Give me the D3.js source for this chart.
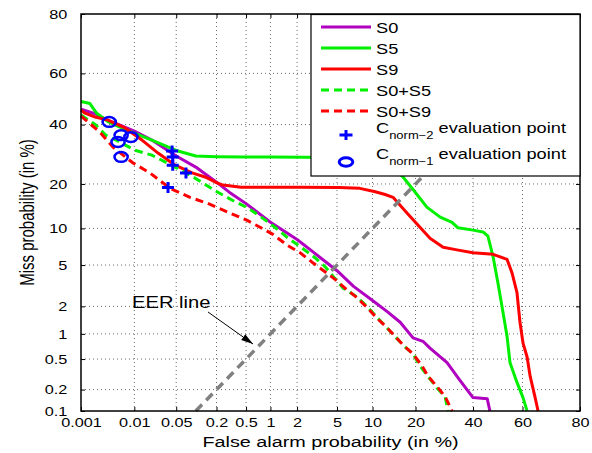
<!DOCTYPE html>
<html>
<head>
<meta charset="utf-8">
<script src="https://cdn.jsdelivr.net/npm/d3@7"></script>
<style>
  body { margin: 0; background: #fff; }
  svg { display: block; }
  text { font-family: "Liberation Sans", Arial, Helvetica, sans-serif; }
</style>
</head>
<body>
<svg width="592" height="453"></svg>
<script>
// axis ticks (in %)
const xTicks = [0.001, 0.01, 0.05, 0.2, 0.5, 1, 2, 5, 10, 20, 40, 60, 80];
const yTicks = [0.1, 0.2, 0.5, 1, 2, 5, 10, 20, 40, 60, 80];

// DET curves: [false alarm %, miss %]
const S0 = [[0.001,46],[0.002,44],[0.003,42],[0.005,40.2],[0.01,37.5],[0.02,34.2],[0.05,28.6],[0.1,25],
  [0.2,20.5],[0.3,17.8],[0.5,15],[1,11.1],[2,8.2],[3,6.4],[5,4.45],[7,3.17],[10,2.3],[12.9,1.76],
  [15.9,1.35],[19.3,0.9],[22.2,0.82],[24.4,0.68],[30.2,0.45],[34.8,0.27],[40,0.155],[45.7,0.15],[46.8,0.1]];
const S5 = [[0.001,49],[0.0015,48.2],[0.002,44.5],[0.0034,41],[0.005,39.4],[0.01,36.8],[0.02,34.2],
  [0.05,30.5],[0.1,28.6],[0.2,28.4],[0.5,28.3],[1,28.3],[5,28.1],[8,27.6],[10,26.7],[12,25.3],[15,23.6],
  [16.6,22],[19.3,18.5],[23.4,14.2],[27.8,12.1],[32,11.1],[34.2,10.1],[40,9.7],[44,9.4],[46,8.7],
  [48.1,5.9],[50.1,3.4],[51.8,1.95],[53.8,0.93],[55,0.45],[57.8,0.25],[60.2,0.155],[61.8,0.1]];
const S9 = [[0.001,45.6],[0.0012,44.4],[0.0019,42.9],[0.0033,41.7],[0.0068,38.7],[0.0136,34.2],
  [0.0254,29.6],[0.048,25.6],[0.088,23.2],[0.137,22],[0.203,20.3],[0.246,19.7],[0.43,19.1],[2.15,19.1],
  [5.2,19],[7.9,18.8],[10.5,17.9],[12.45,17.2],[14.2,16.5],[17.7,12.9],[21.3,10.2],[24.4,8.4],[28.8,7.1],
  [33.8,6.75],[40,6.4],[48.1,6.2],[53.8,5.6],[55.8,4.25],[57.8,2.75],[59,1.35],[60.2,0.78],[61.8,0.53],
  [63,0.3],[64.9,0.155],[66,0.1]];
const S0S5 = [[0.001,43.7],[0.0019,40],[0.003,36],[0.004,34.9],[0.0103,30.6],[0.02,28.9],[0.048,25],
  [0.091,22],[0.203,17.9],[0.33,15.8],[0.53,14],[0.79,12],[1.13,10.2],[1.6,8.4],[2.26,7],[3.07,5.8],
  [3.85,4.85],[5.67,3.05],[7.5,2.5],[9.2,1.95],[10.8,1.53],[12.65,1.2],[14.7,0.93],[16.9,0.72],[19.3,0.58],
  [21.3,0.41],[23.8,0.3],[26.7,0.21],[29.5,0.16],[30.5,0.1]];
const S0S9 = [[0.001,43.3],[0.0023,37.2],[0.0041,31.7],[0.0095,26.3],[0.0186,23.2],[0.04,18.8],
  [0.082,16.5],[0.147,15.1],[0.31,12.9],[0.51,11.5],[0.75,10.2],[1.07,9],[1.55,7.4],[2.15,6.4],[2.87,5.3],
  [3.85,4.35],[4.8,3.7],[5.9,3.05],[7.5,2.45],[9.05,1.95],[10.8,1.5],[12.9,1.17],[14.7,0.93],[16.9,0.72],
  [19.3,0.58],[21.9,0.41],[23.8,0.3],[26.7,0.22],[29.5,0.16],[32,0.1]];

// evaluation points
const cnorm2Points = [[0.043,30.3],[0.044,28.3],[0.044,25.6],[0.071,23.2],[0.037,19.0]];
const cnorm1Points = [[0.0035,41],[0.0058,36],[0.0087,35.3],[0.0051,33.5],[0.0058,28.3]];

// EER diagonal (miss = false alarm)
const eerRange = [0.1, 80];

const seriesNames = ["S0", "S5", "S9", "S0+S5", "S0+S9"];
const seriesData = [S0, S5, S9, S0S5, S0S9];
const seriesColors = ["#b000c0", "#00f000", "#ff0000", "#00f000", "#ff0000"];
const seriesDash = [null, null, null, "8,5", "8,5"];

const pLeft = 81, pRight = 580, pTop = 14, pBottom = 411;
const SX = 1.25; // text in the original is stretched horizontally

// inverse normal CDF (Acklam)
function probit(p) {
    const a = [-3.969683028665376e+01, 2.209460984245205e+02, -2.759285104469687e+02, 1.383577518672690e+02, -3.066479806614716e+01, 2.506628277459239e+00];
    const b = [-5.447609879822406e+01, 1.615858368580409e+02, -1.556989798598866e+02, 6.680131188771972e+01, -1.328068155288572e+01];
    const c = [-7.784894002430293e-03, -3.223964580411365e-01, -2.400758277161838e+00, -2.549732539343734e+00, 4.374664141464968e+00, 2.938163982698783e+00];
    const d = [7.784695709041462e-03, 3.224671290700398e-01, 2.445134137142996e+00, 3.754408661907416e+00];
    const plow = 0.02425;
    if (p < plow) {
        const q = Math.sqrt(-2 * Math.log(p));
        return (((((c[0]*q+c[1])*q+c[2])*q+c[3])*q+c[4])*q+c[5]) / ((((d[0]*q+d[1])*q+d[2])*q+d[3])*q+1);
    } else if (p <= 1 - plow) {
        const q = p - 0.5, r = q * q;
        return (((((a[0]*r+a[1])*r+a[2])*r+a[3])*r+a[4])*r+a[5])*q / (((((b[0]*r+b[1])*r+b[2])*r+b[3])*r+b[4])*r+1);
    }
    const q = Math.sqrt(-2 * Math.log(1 - p));
    return -(((((c[0]*q+c[1])*q+c[2])*q+c[3])*q+c[4])*q+c[5]) / ((((d[0]*q+d[1])*q+d[2])*q+d[3])*q+1);
}

// normal-deviate scale on top of a linear scale, usable by d3 axes
function probitScale(domainPct, range) {
    const lin = d3.scaleLinear().domain(domainPct.map(p => probit(p / 100))).range(range);
    const s = p => lin(probit(p / 100));
    s.domain = () => domainPct;
    s.range = () => lin.range();
    s.copy = () => probitScale(domainPct, range);
    return s;
}

const x = probitScale([0.001, 80], [pLeft, pRight]);
const y = probitScale([0.1, 80], [pBottom, pTop]);

const svg = d3.select("svg");

// grid
const grid = svg.append("g")
    .attr("stroke", "#444")
    .attr("stroke-width", 0.8)
    .attr("stroke-dasharray", "1,3");
grid.selectAll(".gx").data(xTicks.slice(1, -1)).join("line")
    .attr("x1", d => x(d)).attr("x2", d => x(d))
    .attr("y1", pTop).attr("y2", pBottom);
grid.selectAll(".gy").data(yTicks.slice(1, -1)).join("line")
    .attr("x1", pLeft).attr("x2", pRight)
    .attr("y1", d => y(d)).attr("y2", d => y(d));

// curves
const line = d3.line().x(d => x(d[0])).y(d => y(d[1]));
seriesData.forEach((data, i) => {
    svg.append("path")
        .datum(data)
        .attr("d", line)
        .attr("fill", "none")
        .attr("stroke", seriesColors[i])
        .attr("stroke-width", 3)
        .attr("stroke-linejoin", "round")
        .attr("stroke-dasharray", seriesDash[i]);
});

// EER line
svg.append("path")
    .datum(eerRange.map(p => [p, p]))
    .attr("d", line)
    .attr("stroke", "#808080")
    .attr("stroke-width", 3.5)
    .attr("stroke-dasharray", "9,6");

// evaluation points
svg.append("g").selectAll("path")
    .data(cnorm2Points)
    .join("path")
    .attr("d", d => `M${x(d[0]) - 6},${y(d[1])}h12M${x(d[0])},${y(d[1]) - 5.5}v11`)
    .attr("stroke", "#0000ff")
    .attr("stroke-width", 3);

svg.append("g").selectAll("ellipse")
    .data(cnorm1Points)
    .join("ellipse")
    .attr("cx", d => x(d[0]))
    .attr("cy", d => y(d[1]))
    .attr("rx", 6.6)
    .attr("ry", 4.9)
    .attr("fill", "none")
    .attr("stroke", "#0000ff")
    .attr("stroke-width", 2.5);

// axes
function styleAxis(g, size) {
    g.attr("font-size", size).attr("font-family", null);
    g.select(".domain").remove();
    g.selectAll("line").attr("stroke", "#000");
    g.selectAll("text").attr("fill", "#000").attr("transform", `scale(${SX},1)`);
}

svg.append("g")
    .attr("transform", `translate(0,${pBottom})`)
    .call(d3.axisBottom(x).tickValues(xTicks).tickFormat(d => String(d))
        .tickSizeInner(-4).tickSizeOuter(0).tickPadding(6.5))
    .call(g => styleAxis(g, 13));

svg.append("g")
    .attr("transform", `translate(${pLeft},0)`)
    .call(d3.axisLeft(y).tickValues(yTicks).tickFormat(d => String(d))
        .tickSizeInner(-4).tickSizeOuter(0).tickPadding(11))
    .call(g => styleAxis(g, 13));

svg.append("g")
    .attr("transform", `translate(0,${pTop})`)
    .call(d3.axisTop(x).tickValues(xTicks).tickFormat("").tickSizeInner(-4).tickSizeOuter(0))
    .call(g => styleAxis(g, 13));

svg.append("g")
    .attr("transform", `translate(${pRight},0)`)
    .call(d3.axisRight(y).tickValues(yTicks).tickFormat("").tickSizeInner(-4).tickSizeOuter(0))
    .call(g => styleAxis(g, 13));

// frame
svg.append("rect")
    .attr("x", pLeft).attr("y", pTop)
    .attr("width", pRight - pLeft).attr("height", pBottom - pTop)
    .attr("fill", "none")
    .attr("stroke", "#000")
    .attr("stroke-width", 1.5);

// axis titles
svg.append("text")
    .attr("transform", `translate(${(pLeft + pRight) / 2},447) scale(1.32,1)`)
    .attr("text-anchor", "middle")
    .attr("font-size", 15)
    .text("False alarm probability (in %)");

svg.append("text")
    .attr("transform", `translate(34,${(pTop + pBottom) / 2}) scale(1.4,1) rotate(-90)`)
    .attr("text-anchor", "middle")
    .attr("font-size", 15)
    .text("Miss probability (in %)");

// EER annotation
svg.append("defs").append("marker")
    .attr("id", "arrow")
    .attr("viewBox", "0 0 12 8")
    .attr("refX", 12).attr("refY", 4)
    .attr("markerWidth", 12).attr("markerHeight", 8)
    .attr("markerUnits", "userSpaceOnUse")
    .attr("orient", "auto")
    .append("path")
    .attr("d", "M0,0.5L12,4L0,7.5z")
    .attr("fill", "#000");

svg.append("text")
    .attr("transform", "translate(132,308) scale(1.26,1)")
    .attr("font-size", 16)
    .text("EER line");

svg.append("line")
    .attr("x1", 208).attr("y1", 312)
    .attr("x2", 253).attr("y2", 344)
    .attr("stroke", "#000")
    .attr("stroke-width", 1)
    .attr("marker-end", "url(#arrow)");

// legend
const legend = svg.append("g");
legend.append("rect")
    .attr("x", 311).attr("y", 14.5)
    .attr("width", 269).attr("height", 161.5)
    .attr("fill", "#fff")
    .attr("stroke", "#000")
    .attr("stroke-width", 1.2);

const rowY = d3.scaleLinear().domain([0, 1]).range([27, 48]);

seriesNames.forEach((name, i) => {
    const ly = rowY(i);
    legend.append("line")
        .attr("x1", 321).attr("x2", 371)
        .attr("y1", ly).attr("y2", ly)
        .attr("stroke", seriesColors[i])
        .attr("stroke-width", 3)
        .attr("stroke-dasharray", seriesDash[i]);
    legend.append("text")
        .attr("transform", `translate(376,${ly + 5.5}) scale(1.3,1)`)
        .attr("font-size", 14)
        .text(name);
});

// evaluation-point legend rows
legend.append("path")
    .attr("d", "M339.5,135h13M346,130v10")
    .attr("stroke", "#0000ff")
    .attr("stroke-width", 3);
legend.append("ellipse")
    .attr("cx", 346).attr("cy", 162)
    .attr("rx", 6.8).attr("ry", 4.2)
    .attr("fill", "none")
    .attr("stroke", "#0000ff")
    .attr("stroke-width", 3);

[["norm\u22122", 133], ["norm\u22121", 159]].forEach(([sub, by]) => {
    const t = legend.append("text")
        .attr("transform", `translate(376,${by}) scale(1.3,1)`)
        .attr("font-size", 14);
    t.append("tspan").text("C");
    t.append("tspan").attr("font-size", 10).attr("dy", 6).text(sub);
    t.append("tspan").attr("dy", -6).text(" evaluation point");
});
</script>
</body>
</html>
